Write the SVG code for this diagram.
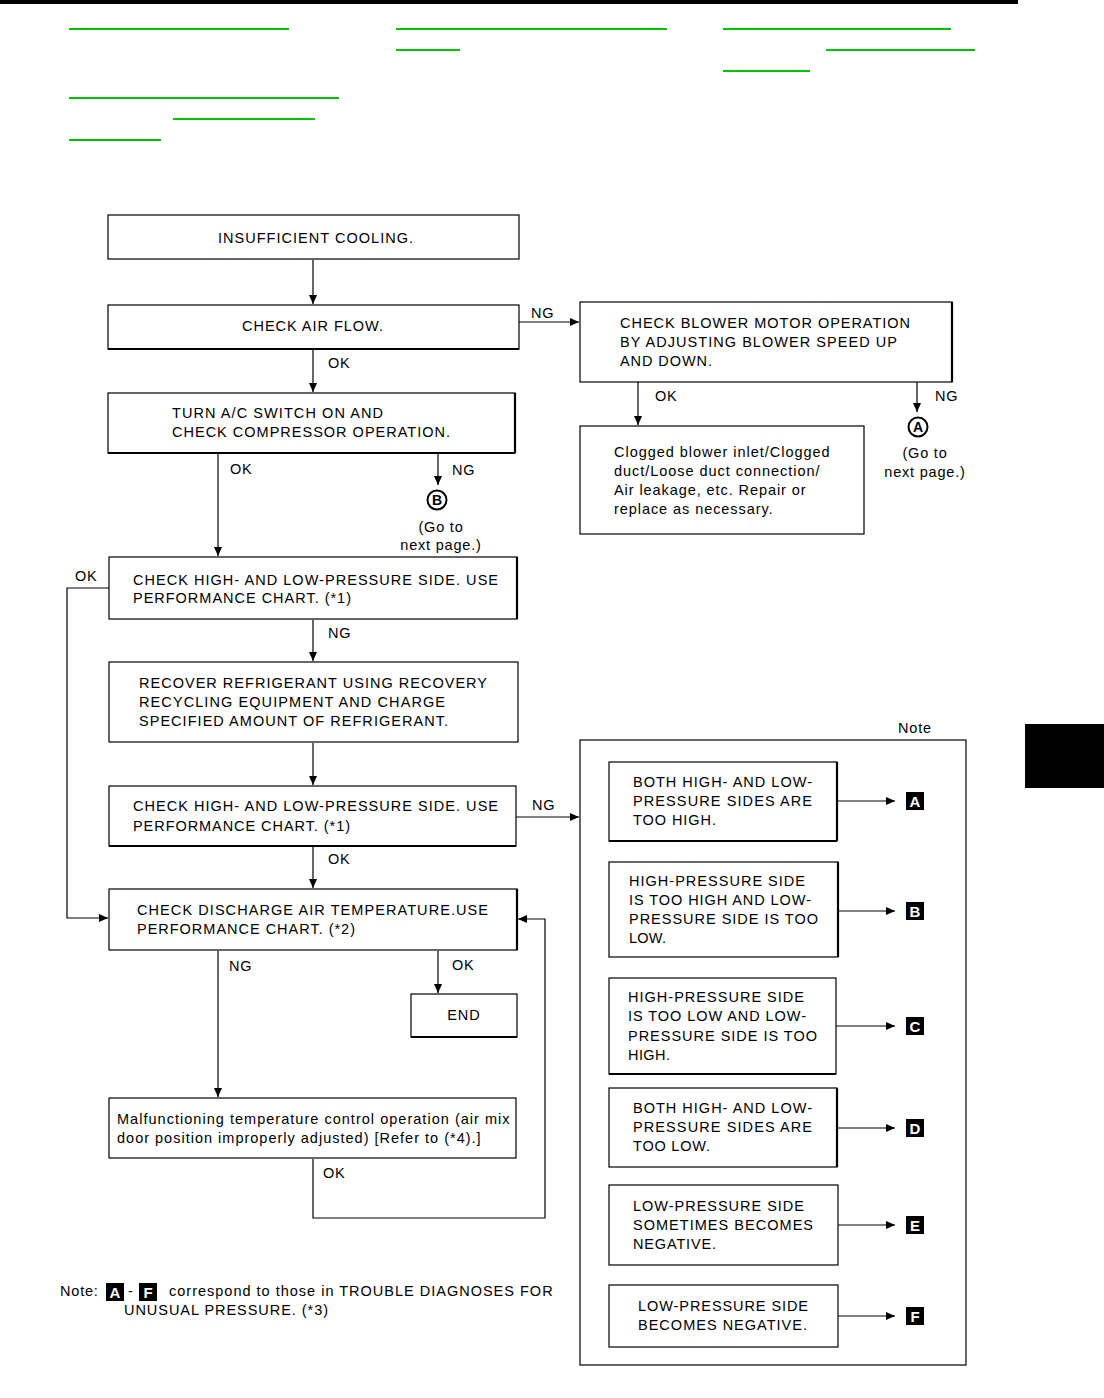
<svg xmlns="http://www.w3.org/2000/svg" width="1104" height="1398" viewBox="0 0 1104 1398">
<defs>
<marker id="ah" markerUnits="userSpaceOnUse" markerWidth="10" markerHeight="10" refX="9" refY="4" orient="auto">
<path d="M0,0 L9,4 L0,8 z" fill="#000"/>
</marker>
</defs>
<style>
text{font-family:"Liberation Sans",Arial,sans-serif;font-size:14.5px;fill:#000}
.t{letter-spacing:1px}
.m{letter-spacing:0.4px}
.lb{letter-spacing:0.8px}
.box{fill:#fff;stroke:#000;stroke-width:1.2}
.panel{fill:none;stroke:#000;stroke-width:1.2}
.edge{stroke:#000;stroke-width:2.2;fill:none}
.ln{stroke:#000;stroke-width:1.2;fill:none}
.arr{stroke:#000;stroke-width:1.2;fill:none;marker-end:url(#ah)}
.g{stroke:#00c000;stroke-width:2}
.circ{fill:#fff;stroke:#000;stroke-width:2}
.cl{font-weight:bold;font-size:14px;text-anchor:middle}
.bl{font-weight:bold;font-size:15px;fill:#fff;text-anchor:middle}
</style>
<rect width="1104" height="1398" fill="#fff"/>
<g id="header">
<rect x="0" y="0" width="1018" height="4" fill="#000"/>
<line class="g" x1="69" y1="29" x2="289" y2="29"/>
<line class="g" x1="396" y1="29" x2="667" y2="29"/>
<line class="g" x1="396" y1="50" x2="460" y2="50"/>
<line class="g" x1="723" y1="29" x2="951" y2="29"/>
<line class="g" x1="826" y1="50" x2="975" y2="50"/>
<line class="g" x1="723" y1="71" x2="810" y2="71"/>
<line class="g" x1="69" y1="98" x2="339" y2="98"/>
<line class="g" x1="173" y1="119" x2="315" y2="119"/>
<line class="g" x1="69" y1="140" x2="161" y2="140"/>
<rect x="1025" y="724" width="79" height="64" fill="#000"/>
</g>
<g id="n-notepanel">
<text class="lb" x="898" y="733">Note</text>
<rect class="panel" x="580" y="740" width="386" height="625"/>
</g>
<g id="connectors">
<line class="arr" x1="313" y1="260" x2="313" y2="304"/>
<line class="arr" x1="519" y1="322" x2="579" y2="322"/>
<line class="arr" x1="313" y1="350" x2="313" y2="392"/>
<line class="arr" x1="638" y1="382" x2="638" y2="425"/>
<line class="arr" x1="917" y1="382" x2="917" y2="412"/>
<line class="arr" x1="218" y1="454" x2="218" y2="556"/>
<line class="arr" x1="438" y1="454" x2="438" y2="485"/>
<polyline class="arr" points="109,588 67,588 67,918 108,918"/>
<line class="arr" x1="313" y1="620" x2="313" y2="661"/>
<line class="arr" x1="313" y1="743" x2="313" y2="785"/>
<line class="arr" x1="516" y1="817" x2="579" y2="817"/>
<line class="arr" x1="313" y1="847" x2="313" y2="888"/>
<line class="arr" x1="218" y1="951" x2="218" y2="1097"/>
<line class="arr" x1="438" y1="951" x2="438" y2="993"/>
<polyline class="arr" points="313,1159 313,1218 545,1218 545,919 518,919"/>
<line class="arr" x1="837" y1="801" x2="895" y2="801"/>
<line class="arr" x1="838" y1="911" x2="895" y2="911"/>
<line class="arr" x1="836" y1="1026" x2="895" y2="1026"/>
<line class="arr" x1="837" y1="1128" x2="895" y2="1128"/>
<line class="arr" x1="838" y1="1225" x2="895" y2="1225"/>
<line class="arr" x1="838" y1="1316" x2="895" y2="1316"/>
<text class="lb" x="531" y="318">NG</text>
<text class="lb" x="328" y="368">OK</text>
<text class="lb" x="655" y="401">OK</text>
<text class="lb" x="935" y="401">NG</text>
<text class="lb" x="230" y="474">OK</text>
<text class="lb" x="452" y="475">NG</text>
<text class="lb" x="75" y="581">OK</text>
<text class="lb" x="328" y="638">NG</text>
<text class="lb" x="532" y="810">NG</text>
<text class="lb" x="328" y="864">OK</text>
<text class="lb" x="229" y="971">NG</text>
<text class="lb" x="452" y="970">OK</text>
<text class="lb" x="323" y="1178">OK</text>
</g>
<g id="n-insufficient">
<rect class="box" x="108" y="215" width="411" height="44"/>
<text class="t" x="218" y="243" textLength="196">INSUFFICIENT COOLING.</text>
</g>
<g id="n-airflow">
<rect class="box" x="108" y="305" width="411" height="44"/>
<line class="edge" x1="108" y1="349" x2="519" y2="349"/>
<text class="t" x="242" y="331" textLength="142">CHECK AIR FLOW.</text>
</g>
<g id="n-blower">
<rect class="box" x="580" y="302" width="372" height="80"/>
<line class="edge" x1="952" y1="302" x2="952" y2="382"/>
<text class="t" x="620" y="328" textLength="291">CHECK BLOWER MOTOR OPERATION</text>
<text class="t" x="620" y="347" textLength="278">BY ADJUSTING BLOWER SPEED UP</text>
<text class="t" x="620" y="366" textLength="93">AND DOWN.</text>
</g>
<g id="n-gotoA">
<circle class="circ" cx="918" cy="427" r="9.5"/>
<text class="cl" x="918" y="432">A</text>
<text class="lb" x="925" y="458" text-anchor="middle">(Go to</text>
<text class="lb" x="925" y="477" text-anchor="middle">next page.)</text>
</g>
<g id="n-clogged">
<rect class="box" x="580" y="426" width="284" height="108"/>
<text class="m" x="614" y="457" textLength="216">Clogged blower inlet/Clogged</text>
<text class="m" x="614" y="476" textLength="206">duct/Loose duct connection/</text>
<text class="m" x="614" y="495" textLength="192">Air leakage, etc. Repair or</text>
<text class="m" x="614" y="514" textLength="159">replace as necessary.</text>
</g>
<g id="n-compressor">
<rect class="box" x="108" y="393" width="407" height="60"/>
<line class="edge" x1="515" y1="393" x2="515" y2="453"/>
<line class="edge" x1="108" y1="453" x2="515" y2="453"/>
<text class="t" x="172" y="418" textLength="212">TURN A/C SWITCH ON AND</text>
<text class="t" x="172" y="437" textLength="279">CHECK COMPRESSOR OPERATION.</text>
</g>
<g id="n-gotoB">
<circle class="circ" cx="437" cy="500" r="9.5"/>
<text class="cl" x="437" y="505">B</text>
<text class="lb" x="441" y="532" text-anchor="middle">(Go to</text>
<text class="lb" x="441" y="550" text-anchor="middle">next page.)</text>
</g>
<g id="n-check1">
<rect class="box" x="109" y="557" width="408" height="62"/>
<line class="edge" x1="517" y1="557" x2="517" y2="619"/>
<text class="t" x="133" y="585" textLength="366">CHECK HIGH- AND LOW-PRESSURE SIDE. USE</text>
<text class="t" x="133" y="603" textLength="219">PERFORMANCE CHART. (*1)</text>
</g>
<g id="n-recover">
<rect class="box" x="109" y="662" width="409" height="80"/>
<text class="t" x="139" y="688" textLength="349">RECOVER REFRIGERANT USING RECOVERY</text>
<text class="t" x="139" y="707" textLength="307">RECYCLING EQUIPMENT AND CHARGE</text>
<text class="t" x="139" y="726" textLength="310">SPECIFIED AMOUNT OF REFRIGERANT.</text>
</g>
<g id="n-check2">
<rect class="box" x="109" y="786" width="407" height="60"/>
<line class="edge" x1="109" y1="846" x2="516" y2="846"/>
<text class="t" x="133" y="811" textLength="366">CHECK HIGH- AND LOW-PRESSURE SIDE. USE</text>
<text class="t" x="133" y="831" textLength="218">PERFORMANCE CHART. (*1)</text>
</g>
<g id="n-discharge">
<rect class="box" x="109" y="889" width="408" height="61"/>
<line class="edge" x1="517" y1="889" x2="517" y2="950"/>
<text class="t" x="137" y="915" textLength="352">CHECK DISCHARGE AIR TEMPERATURE.USE</text>
<text class="t" x="137" y="934" textLength="219">PERFORMANCE CHART. (*2)</text>
</g>
<g id="n-end">
<rect class="box" x="411" y="994" width="106" height="43"/>
<line class="edge" x1="411" y1="1037" x2="517" y2="1037"/>
<text class="t" x="464" y="1020" text-anchor="middle">END</text>
</g>
<g id="n-malfunction">
<rect class="box" x="109" y="1098" width="407" height="60"/>
<text class="m" x="117" y="1124" textLength="393">Malfunctioning temperature control operation (air mix</text>
<text class="m" x="117" y="1143" textLength="364">door position improperly adjusted) [Refer to (*4).]</text>
</g>
<g id="n-A">
<rect class="box" x="609" y="762" width="228" height="79"/>
<line class="edge" x1="837" y1="762" x2="837" y2="841"/>
<line class="edge" x1="609" y1="841" x2="837" y2="841"/>
<text class="t" x="633" y="787" textLength="180">BOTH HIGH- AND LOW-</text>
<text class="t" x="633" y="806" textLength="180">PRESSURE SIDES ARE</text>
<text class="t" x="633" y="825" textLength="84">TOO HIGH.</text>
<rect x="906" y="792" width="18" height="18" fill="#000"/>
<text class="bl" x="915" y="806.5">A</text>
</g>
<g id="n-B">
<rect class="box" x="609" y="862" width="229" height="95"/>
<line class="edge" x1="838" y1="862" x2="838" y2="957"/>
<text class="t" x="629" y="886" textLength="177">HIGH-PRESSURE SIDE</text>
<text class="t" x="629" y="905" textLength="183">IS TOO HIGH AND LOW-</text>
<text class="t" x="629" y="924" textLength="190">PRESSURE SIDE IS TOO</text>
<text class="t" x="629" y="943" textLength="38">LOW.</text>
<rect x="906" y="902" width="18" height="18" fill="#000"/>
<text class="bl" x="915" y="916.5">B</text>
</g>
<g id="n-C">
<rect class="box" x="609" y="978" width="227" height="96"/>
<line class="edge" x1="609" y1="1074" x2="836" y2="1074"/>
<text class="t" x="628" y="1002" textLength="177">HIGH-PRESSURE SIDE</text>
<text class="t" x="628" y="1021" textLength="179">IS TOO LOW AND LOW-</text>
<text class="t" x="628" y="1041" textLength="190">PRESSURE SIDE IS TOO</text>
<text class="t" x="628" y="1060" textLength="43">HIGH.</text>
<rect x="906" y="1017" width="18" height="18" fill="#000"/>
<text class="bl" x="915" y="1031.5">C</text>
</g>
<g id="n-D">
<rect class="box" x="609" y="1088" width="228" height="79"/>
<line class="edge" x1="837" y1="1088" x2="837" y2="1167"/>
<text class="t" x="633" y="1113" textLength="180">BOTH HIGH- AND LOW-</text>
<text class="t" x="633" y="1132" textLength="180">PRESSURE SIDES ARE</text>
<text class="t" x="633" y="1151" textLength="78">TOO LOW.</text>
<rect x="906" y="1119" width="18" height="18" fill="#000"/>
<text class="bl" x="915" y="1133.5">D</text>
</g>
<g id="n-E">
<rect class="box" x="609" y="1185" width="229" height="80"/>
<text class="t" x="633" y="1211" textLength="172">LOW-PRESSURE SIDE</text>
<text class="t" x="633" y="1230" textLength="181">SOMETIMES BECOMES</text>
<text class="t" x="633" y="1249" textLength="84">NEGATIVE.</text>
<rect x="906" y="1216" width="18" height="18" fill="#000"/>
<text class="bl" x="915" y="1230.5">E</text>
</g>
<g id="n-F">
<rect class="box" x="609" y="1285" width="229" height="62"/>
<text class="t" x="638" y="1311" textLength="171">LOW-PRESSURE SIDE</text>
<text class="t" x="638" y="1330" textLength="170">BECOMES NEGATIVE.</text>
<rect x="906" y="1307" width="18" height="18" fill="#000"/>
<text class="bl" x="915" y="1321.5">F</text>
</g>
<g id="n-footnote">
<text class="lb" x="60" y="1296">Note:</text>
<rect x="106" y="1283" width="18" height="18" fill="#000"/>
<text class="bl" x="115" y="1297.5">A</text>
<text x="128" y="1296">-</text>
<rect x="139" y="1283" width="18" height="18" fill="#000"/>
<text class="bl" x="148" y="1297.5">F</text>
<text class="m" x="169" y="1296" textLength="384">correspond to those in TROUBLE DIAGNOSES FOR</text>
<text class="t" x="124" y="1315" textLength="205">UNUSUAL PRESSURE. (*3)</text>
</g>
</svg>
